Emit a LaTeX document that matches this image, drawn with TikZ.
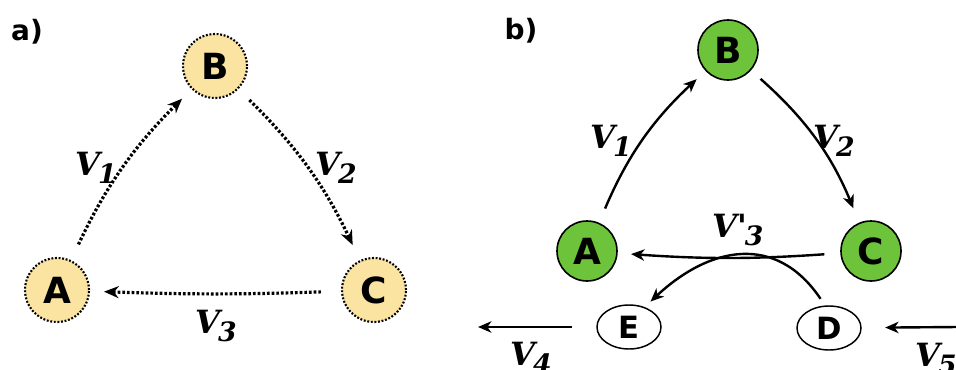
\documentclass[tikz,border=0pt]{standalone}
\usepackage{fontspec}
\newfontfamily\lettfont{DejaVu Sans}
\newfontfamily\velfont{DejaVu Serif}
\usetikzlibrary{arrows.meta,shapes.geometric}
\definecolor{sand}{HTML}{FBE3A2}
\definecolor{leaf}{HTML}{6DC43A}
\newcommand{\vsub}[2]{#1\kern-1.5pt\raisebox{-6pt}{\fontsize{20}{20}\selectfont#2}}

\begin{document}
\begin{tikzpicture}[x=0.75pt, y=0.75pt,
  dotnode/.style={circle, draw, fill=sand, line width=1.6pt, dash pattern=on 1.4pt off 1.3pt, minimum size=48pt, inner sep=0pt, font=\lettfont\bfseries\fontsize{27}{27}\selectfont},
  flow/.style={circle, draw, fill=leaf, line width=1.2pt, minimum size=45pt, inner sep=0pt, font=\lettfont\bfseries\fontsize{27}{27}\selectfont},
  pool/.style={ellipse, draw, fill=white, line width=1.1pt, minimum width=48pt, minimum height=33pt, inner sep=0pt, font=\lettfont\bfseries\fontsize{23}{23}\selectfont},
  dotarr/.style={line width=2.4pt, dash pattern=on 2pt off 1.5pt, -{Stealth[length=11pt, width=9pt, inset=3.5pt]}},
  arr/.style={line width=1.8pt, -{Stealth[length=10pt, width=8.5pt, inset=3pt]}},
  vlab/.style={font=\velfont\bfseries\itshape\fontsize{24}{24}\selectfont, inner sep=0pt, anchor=base west},
  panel/.style={font=\lettfont\bfseries\fontsize{21}{21}\selectfont},
]
\useasboundingbox (0,0) rectangle (956,369);

% Panel a
\node[panel] (alab) at (27,337) {a)};
\node[dotnode] (aA) at (57,79) {A};
\node[dotnode] (aB) at (215,303) {B};
\node[dotnode] (aC) at (374,79) {C};

\draw[dotarr, shorten <=13pt, shorten >=10pt] (aA) to[bend left=10] (aB);
\draw[dotarr, shorten <=11.5pt, shorten >=12.5pt] (aB) to[bend left=10] (aC);
\draw[dotarr, shorten <=15pt, shorten >=10.5pt] (aC) to[bend left=2] (aA);

\node[vlab] (av1) at (75,194) {\vsub{V}{1}};
\node[vlab] (av2) at (315,194) {\vsub{V}{2}};
\node[vlab] (av3) at (195,36) {\vsub{V}{3}};

% Panel b
\node[panel] (blab) at (521,338) {b)};
\node[flow] (bA) at (587,118) {A};
\node[flow] (bB) at (728,319) {B};
\node[flow] (bC) at (871,118) {C};
\node[pool] (bE) at (629,42) {E};
\node[pool] (bD) at (829,41) {D};
\coordinate (v4end) at (478,42);
\coordinate (v5start) at (958,42);

\draw[arr, shorten <=11.5pt, shorten >=9pt] (bA) to[bend left=12] (bB);
\draw[arr, shorten <=9.5pt, shorten >=11.5pt] (bB) to[bend left=13] (bC);
\draw[arr, shorten <=12pt, shorten >=10pt] (bC) to[bend left=4] (bA);
\draw[arr, shorten <=6pt, shorten >=6pt] (bD.100) to[out=124, in=43, looseness=1.25] (bE.52);
\draw[arr, shorten <=18.4pt] (bE) -- (v4end);
\draw[arr, shorten >=17.6pt] (v5start) -- (bD);

\node[vlab] (bv1) at (590,221) {\vsub{V}{1}};
\node[vlab] (bv2) at (813,221) {\vsub{V}{2}};
\node[vlab] (bv3) at (712,132) {\vsub{V'}{3}};
\node[vlab] (bv4) at (510,4) {\vsub{V}{4}};
\node[vlab] (bv5) at (915,3) {\vsub{V}{5}};

\end{tikzpicture}
\end{document}
